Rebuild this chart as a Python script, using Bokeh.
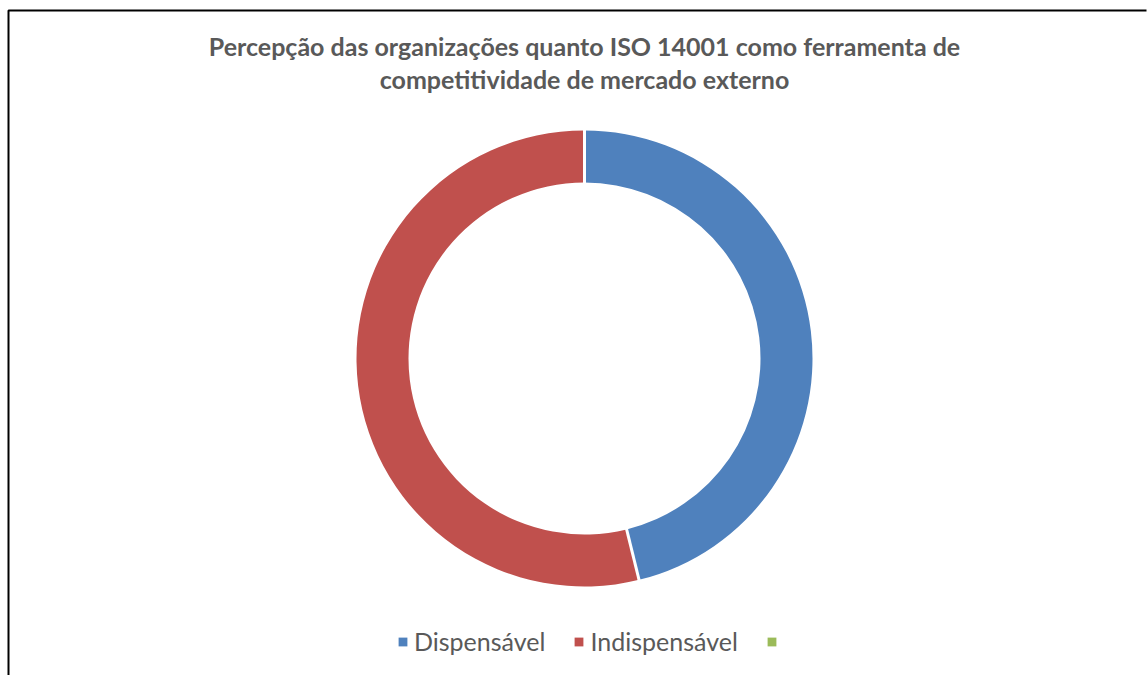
import numpy as np
from bokeh.plotting import figure
from bokeh.models import Range1d, ColumnDataSource, Legend, LegendItem
from bokeh.core.properties import value
from bokeh.embed import file_html
from bokeh.resources import INLINE

# ---- data ----
TITLE_LINES = ["Percepção das organizações quanto ISO 14001 como ferramenta de",
               "competitividade de mercado externo"]
CATEGORIES = ["Dispensável", "Indispensável", ""]
VALUES = [6, 7, 0]
COLORS = ["#4F81BD", "#C0504D", "#9BBB59"]

W, H = 1147, 675
CX, CY = 584, H - 358
R_OUT, R_IN = 228, 176
TEXT_COLOR = "#595959"

p = figure(width=W, height=H, x_range=Range1d(0, W), y_range=Range1d(0, H),
           output_backend="svg", toolbar_location=None, min_border=0)
p.axis.visible = False
p.grid.visible = False
p.outline_line_color = None
p.background_fill_color = "white"

vals = np.array(VALUES, dtype=float)
frac = np.cumsum(vals) / vals.sum()
start_frac = np.concatenate([[0.0], frac[:-1]])
start = np.pi / 2 - start_frac * 2 * np.pi
end = np.pi / 2 - frac * 2 * np.pi
nz = vals > 0

src = ColumnDataSource(dict(cat=CATEGORIES, color=COLORS, start=start, end=end,
                            r_in=np.where(nz, R_IN, 0), r_out=np.where(nz, R_OUT, 0)))
wedges = p.annular_wedge(x=CX, y=CY, inner_radius="r_in", outer_radius="r_out",
                         start_angle="start", end_angle="end", direction="clock",
                         fill_color="color", line_color=None, source=src)

# white separators at slice boundaries
b = start[nz]
p.segment(x0=CX + (R_IN - 2) * np.cos(b), y0=CY + (R_IN - 2) * np.sin(b),
          x1=CX + (R_OUT + 2) * np.cos(b), y1=CY + (R_OUT + 2) * np.sin(b),
          line_color="white", line_width=3)

# frame border (left and top visible)
p.line(x=[8, 8, W - 1], y=[0, H - 10, H - 10], line_color="black", line_width=2)

# title
p.text(x=[CX, CX], y=[H - 45, H - 78], text=TITLE_LINES, text_align="center",
       text_baseline="alphabetic", text_font=value("Lato"), text_font_style="bold",
       text_font_size="25px", text_color=TEXT_COLOR)

items = [LegendItem(label=(c if c else " "), renderers=[wedges], index=i)
         for i, c in enumerate(CATEGORIES)]
legend = Legend(items=items, orientation="horizontal", location=(397, 19),
                glyph_width=11, glyph_height=11, label_standoff=6, spacing=28,
                label_text_font="Lato", label_text_font_size="25px",
                label_text_color=TEXT_COLOR, padding=0, margin=0,
                border_line_color=None, background_fill_alpha=0)
p.add_layout(legend, "center")

open("out.html", "w").write(file_html(p, INLINE))
